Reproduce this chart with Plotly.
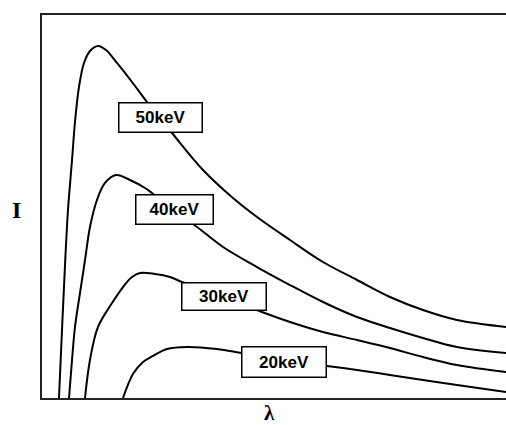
import plotly.graph_objects as go

# Data (arbitrary units: lambda 0-100, intensity 0-100)
x50 = [3.66, 4.31, 4.96, 5.60, 6.47, 7.11, 7.97, 9.05, 10.34, 12.07, 13.79, 16.16, 19.40, 22.63,
       28.02, 34.70, 41.16, 46.34, 53.45, 60.56, 67.89, 75.00, 82.11, 89.44, 100]
y50 = [0, 17.75, 34.73, 49.09, 62.14, 72.06, 81.20, 87.47, 90.60, 91.91, 90.86, 87.47, 82.51, 77.28,
       69.19, 59.53, 52.22, 47.26, 41.25, 35.51, 30.81, 26.37, 22.98, 20.37, 18.54]

x40 = [5.82, 6.47, 7.11, 8.19, 9.27, 10.34, 11.85, 13.58, 15.95, 18.97, 22.20, 23.71, 28.66,
       33.41, 39.01, 46.34, 53.45, 60.56, 67.89, 75.00, 82.11, 89.44, 100]
y40 = [0, 9.92, 18.54, 27.42, 36.03, 44.65, 51.70, 56.14, 58.22, 56.92, 54.83, 53.52, 48.83,
       44.65, 39.43, 34.20, 29.50, 25.07, 21.15, 18.28, 15.67, 13.32, 11.75]

x30 = [9.27, 10.34, 12.07, 15.09, 17.46, 19.40, 21.12, 24.35, 27.59, 30.17, 39.44, 47.41,
       53.45, 60.56, 67.89, 75.00, 82.11, 89.44, 100]
y30 = [0, 9.92, 18.54, 24.80, 28.98, 31.59, 32.64, 32.38, 31.59, 30.29, 26.37, 22.45,
       19.84, 17.23, 15.14, 13.05, 10.70, 8.62, 6.79]

x20 = [17.46, 19.61, 21.77, 23.92, 26.94, 31.25, 37.72, 43.10, 52.37, 61.42, 67.89, 75.00,
       82.11, 89.44, 100]
y20 = [0, 6.27, 9.40, 10.97, 12.79, 13.32, 12.79, 11.75, 9.92, 8.36, 7.31, 6.01,
       4.70, 3.39, 1.57]

labels = ["50keV", "40keV", "30keV", "20keV"]
label_x = [25.43, 28.45, 39.33, 52.26]
label_y = [73.11, 49.09, 26.63, 9.53]
label_w = [82, 76, 83, 83]
label_h = [28, 28, 26, 29]

fig = go.Figure()
for xs, ys in [(x50, y50), (x40, y40), (x30, y30), (x20, y20)]:
    fig.add_trace(go.Scatter(x=xs, y=ys, mode="lines",
                             line=dict(color="black", width=2, shape="spline", smoothing=1.0),
                             hoverinfo="skip", showlegend=False))

for t, lx, ly, w, h in zip(labels, label_x, label_y, label_w, label_h):
    fig.add_annotation(x=lx, y=ly, xref="x", yref="y", text="<b>" + t + "</b>",
                       showarrow=False, xanchor="center", yanchor="middle",
                       font=dict(family="Liberation Sans, Arial", size=17, color="black"),
                       bgcolor="white", bordercolor="black", borderwidth=1.5,
                       borderpad=0, width=w, height=h)

fig.add_annotation(x=-0.056, y=0.491, xref="paper", yref="paper", text="<b>I</b>",
                   showarrow=False, xanchor="center", yanchor="middle",
                   font=dict(family="Liberation Serif, Times New Roman", size=24, color="black"))
fig.add_annotation(x=0.491, y=-0.040, xref="paper", yref="paper", text="<b>λ</b>",
                   showarrow=False, xanchor="center", yanchor="middle",
                   font=dict(family="Liberation Serif, Times New Roman", size=21, color="black"))

fig.update_xaxes(range=[0, 100], showgrid=False, zeroline=False, showticklabels=False,
                 ticks="", showline=True, linecolor="#222", linewidth=2, mirror=True)
fig.update_yaxes(range=[0, 100], showgrid=False, zeroline=False, showticklabels=False,
                 ticks="", showline=True, linecolor="#222", linewidth=2, mirror=False)

fig.update_layout(width=506, height=425, margin=dict(l=42, r=0, t=15, b=27),
                  plot_bgcolor="white", paper_bgcolor="white")

fig.write_html("out.html")
